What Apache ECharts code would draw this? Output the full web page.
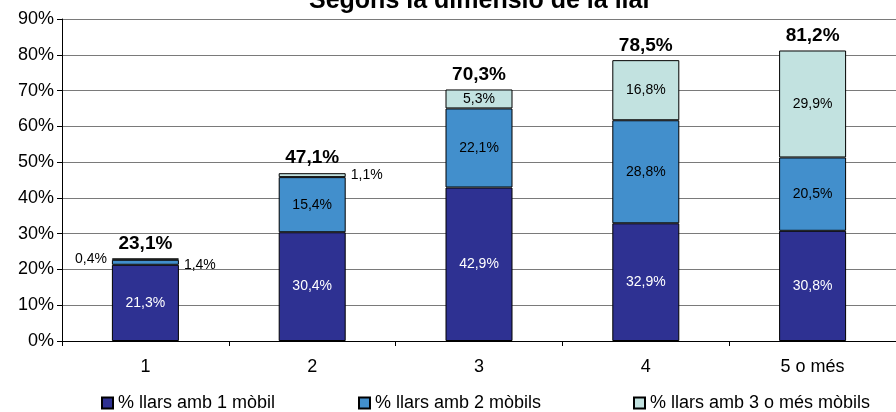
<!DOCTYPE html>
<html>
<head>
<meta charset="utf-8">
<script src="https://cdn.jsdelivr.net/npm/echarts@6/dist/echarts.min.js"></script>
<style>
  html, body { margin: 0; padding: 0; background: #fff; }
  #chart { width: 896px; height: 412px; }
</style>
</head>
<body>
<div id="chart"></div>
<script>
const categories = ['1', '2', '3', '4', '5 o més'];
const names = ['% llars amb 1 mòbil', '% llars amb 2 mòbils', '% llars amb 3 o més mòbils'];
const oneMobile = [21.3, 30.4, 42.9, 32.9, 30.8];
const twoMobiles = [1.4, 15.4, 22.1, 28.8, 20.5];
const threeMobiles = [0.4, 1.1, 5.3, 16.8, 29.9];
const totals = [23.1, 47.1, 70.3, 78.5, 81.2];
const yTicks = [0, 90, 10]; // min, max, interval

const font = '"Liberation Sans", Arial, sans-serif';
const colors = ['#2E3192', '#428FCC', '#C2E2E0'];

// comma decimals like the original
const pct = v => v.toFixed(1).replace('.', ',') + '%';

// small segments get their label outside the bar
const outside = {
  1: { 0: { position: 'right', offset: [0, 3] } },
  2: { 0: { position: 'left' }, 1: { position: 'right' } }
};

function makeBar(idx, values, textColor) {
  return {
    name: names[idx],
    type: 'bar',
    stack: 'total',
    barWidth: 67,
    itemStyle: { color: colors[idx], borderColor: '#000', borderWidth: 1 },
    label: {
      show: true,
      position: 'inside',
      color: textColor,
      fontFamily: font,
      fontSize: 14,
      formatter: p => pct(p.value)
    },
    data: values.map((v, i) => {
      const o = outside[idx] && outside[idx][i];
      if (!o) return v;
      return { value: v, label: Object.assign({ color: '#000' }, o) };
    })
  };
}

const chart = echarts.init(document.getElementById('chart'));
chart.setOption({
  animation: false,
  title: {
    text: 'Segons la dimensió de la llar',
    left: 304,
    top: -16,
    textStyle: { fontFamily: font, fontSize: 25, fontWeight: 'bold', color: '#000' }
  },
  legend: [0, 1, 2].map((i) => ({
    data: [{ name: names[i], icon: 'rect' }],
    left: [96, 353, 628][i],
    top: 389,
    itemWidth: 11,
    itemHeight: 11,
    itemGap: 0,
    selectedMode: false,
    textStyle: { fontFamily: font, fontSize: 18, color: '#000' }
  })),
  grid: { left: 62, right: -11, top: 19, bottom: 71, containLabel: false },
  xAxis: {
    type: 'category',
    data: categories,
    axisLine: { lineStyle: { color: '#000', width: 1 } },
    axisTick: { show: true, length: 5, lineStyle: { color: '#000' } },
    axisLabel: { color: '#000', fontFamily: font, fontSize: 18, margin: 17 }
  },
  yAxis: {
    type: 'value',
    min: yTicks[0],
    max: yTicks[1],
    interval: yTicks[2],
    axisLine: { show: true, lineStyle: { color: '#000', width: 1 } },
    axisTick: { show: true, length: 5, lineStyle: { color: '#000' } },
    axisLabel: { color: '#000', fontFamily: font, fontSize: 18, margin: 8, formatter: '{value}%' },
    splitLine: { show: true, lineStyle: { color: '#7a7a7a', width: 1 } }
  },
  series: [
    makeBar(0, oneMobile, '#fff'),
    makeBar(1, twoMobiles, '#000'),
    makeBar(2, threeMobiles, '#000'),
    {
      name: 'total',
      type: 'scatter',
      symbolSize: 0,
      data: totals,
      z: 5,
      itemStyle: { opacity: 1 },
      label: {
        show: true,
        position: 'top',
        distance: 5,
        color: '#000',
        textBorderWidth: 0,
        fontFamily: font,
        fontSize: 19,
        fontWeight: 'bold',
        formatter: p => pct(p.value)
      }
    }
  ]
});
</script>
</body>
</html>
